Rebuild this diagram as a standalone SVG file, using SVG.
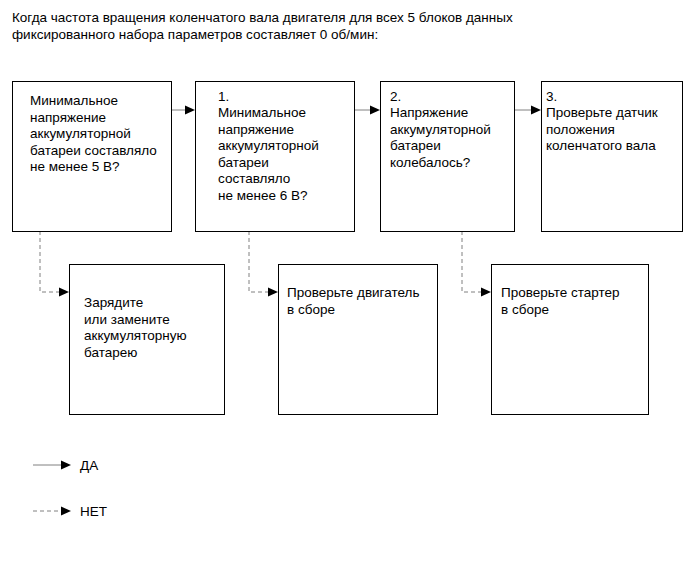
<svg xmlns="http://www.w3.org/2000/svg" width="690" height="564" viewBox="0 0 690 564">
<style>
text{font-family:"Liberation Sans",Arial,sans-serif;font-size:13.5px;fill:#000}
.box{fill:#fff;stroke:#000;stroke-width:1}
.yes{fill:none;stroke:#808080;stroke-width:1}
.no{fill:none;stroke:#808080;stroke-width:1;stroke-dasharray:4 3}
.ah{fill:#000;stroke:none}
</style>
<defs>
<path id="tri" class="ah" d="M-10,-4.5 L0,0 L-10,4.5 Z"/>
</defs>
<g id="title">
<text x="12" y="22">Когда частота вращения коленчатого вала двигателя для всех 5 блоков данных</text>
<text x="12" y="39">фиксированного набора параметров составляет 0 об/мин:</text>
</g>
<g id="connectors">
<path class="yes" d="M172,110 H186"/>
<use href="#tri" x="195" y="110"/>
<path class="yes" d="M354,110 H371"/>
<use href="#tri" x="380" y="110"/>
<path class="yes" d="M514,110 H532"/>
<use href="#tri" x="541" y="110"/>
<path class="no" d="M40,231 V292 H60"/>
<use href="#tri" x="69" y="292"/>
<path class="no" d="M249,231 V292 H269"/>
<use href="#tri" x="278" y="292"/>
<path class="no" d="M462,231 V292 H482"/>
<use href="#tri" x="491" y="292"/>
</g>
<g id="n1">
<rect class="box" x="12.5" y="81.5" width="159" height="150"/>
<text x="30" y="105">Минимальное</text>
<text x="30" y="121.5">напряжение</text>
<text x="30" y="138">аккумуляторной</text>
<text x="30" y="154.5">батареи составляло</text>
<text x="30" y="171">не менее 5 В?</text>
</g>
<g id="n2">
<rect class="box" x="195.5" y="81.5" width="159" height="150"/>
<text x="218" y="101">1.</text>
<text x="218" y="117">Минимальное</text>
<text x="218" y="133.5">напряжение</text>
<text x="218" y="150">аккумуляторной</text>
<text x="218" y="166.5">батареи</text>
<text x="218" y="183">составляло</text>
<text x="218" y="199.5">не менее 6 В?</text>
</g>
<g id="n3">
<rect class="box" x="380.5" y="81.5" width="134" height="150"/>
<text x="390" y="101">2.</text>
<text x="390" y="117">Напряжение</text>
<text x="390" y="133.5">аккумуляторной</text>
<text x="390" y="150">батареи</text>
<text x="390" y="166.5">колебалось?</text>
</g>
<g id="n4">
<rect class="box" x="541.5" y="81.5" width="141" height="150"/>
<text x="546" y="101">3.</text>
<text x="546" y="117">Проверьте датчик</text>
<text x="546" y="133.5">положения</text>
<text x="546" y="150">коленчатого вала</text>
</g>
<g id="n5">
<rect class="box" x="69.5" y="264.5" width="155" height="150"/>
<text x="84" y="307">Зарядите</text>
<text x="84" y="323.5">или замените</text>
<text x="84" y="340">аккумуляторную</text>
<text x="84" y="356.5">батарею</text>
</g>
<g id="n6">
<rect class="box" x="278.5" y="264.5" width="159" height="150"/>
<text x="287" y="297">Проверьте двигатель</text>
<text x="287" y="313.5">в сборе</text>
</g>
<g id="n7">
<rect class="box" x="491.5" y="264.5" width="157" height="150"/>
<text x="501" y="297">Проверьте стартер</text>
<text x="501" y="313.5">в сборе</text>
</g>
<g id="legend">
<path class="yes" d="M33,465 H62"/>
<use href="#tri" x="71" y="465"/>
<text x="80" y="470">ДА</text>
<path class="no" d="M33,511 H62"/>
<use href="#tri" x="71" y="511"/>
<text x="80" y="516">НЕТ</text>
</g>
</svg>
